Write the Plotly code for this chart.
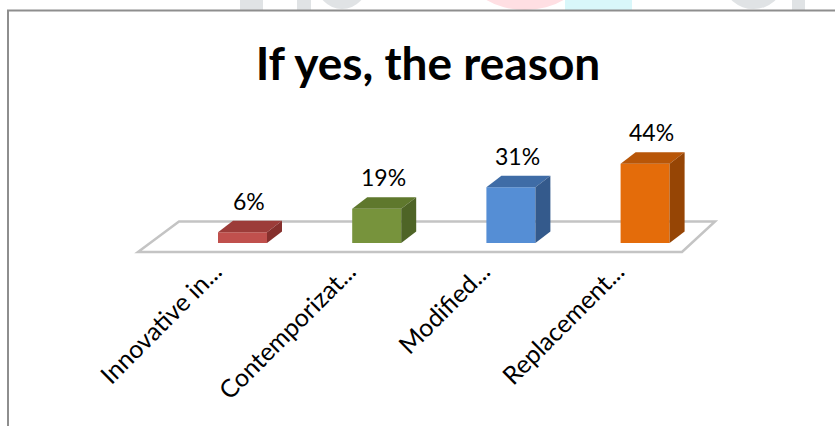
import plotly.graph_objects as go

# ---- data -------------------------------------------------------------
categories = ["Innovative in...", "Contemporizat...", "Modified...", "Replacement..."]
values = [6, 19, 31, 44]
label_suffix = "%"
title_text = "If yes, the reason"

# ---- styling ----------------------------------------------------------
front_colors = ["#c0504d", "#77933c", "#558ed5", "#e46c0a"]
top_colors = ["#9c3c39", "#5f782d", "#3f6ca6", "#b85608"]
side_colors = ["#86302d", "#4e6426", "#345a8c", "#964505"]
font_family = "Lato, 'Noto Sans', sans-serif"

W, H = 835, 426
ML, MR, MT, MB = 100, 45, 100, 170
XU = 134.2        # pixels per category step
YU = 1.8          # pixels per percentage point
BASE_PX = 243     # pixel row of the bar bases
X0_PX = 242.5     # pixel column of the first category

plot_w = W - ML - MR
plot_h = H - MT - MB
x_min = (ML - X0_PX) / XU
x_range = [x_min, x_min + plot_w / XU]
y_max = (BASE_PX - MT) / YU
y_range = [y_max - plot_h / YU, y_max]

BAR_W = 49 / XU           # front face width
DX = 15 / XU              # depth offset (x)
DY = 11.5 / YU            # depth offset (y)


def px_x(px):
    return (px - ML) / plot_w


def px_y(py):
    return 1 - (py - MT) / plot_h


def dx_from_px(px):
    return (px - X0_PX) / XU


def dy_from_px(py):
    return (BASE_PX - py) / YU


idx = list(range(len(categories)))
fig = go.Figure()

# front faces
fig.add_trace(go.Bar(
    x=idx, y=values, width=BAR_W,
    marker=dict(color=front_colors, line=dict(width=0)),
    hoverinfo="skip", showlegend=False,
))

# top and side faces, value labels
for i, v in enumerate(values):
    xl, xr = i - BAR_W / 2, i + BAR_W / 2
    fig.add_trace(go.Scatter(
        x=[xl, xr, xr + DX, xl + DX, xl], y=[v, v, v + DY, v + DY, v],
        fill="toself", fillcolor=top_colors[i], mode="lines",
        line=dict(width=0), hoverinfo="skip", showlegend=False,
    ))
    fig.add_trace(go.Scatter(
        x=[xr, xr + DX, xr + DX, xr, xr], y=[0, DY, v + DY, v, 0],
        fill="toself", fillcolor=side_colors[i], mode="lines",
        line=dict(width=0), hoverinfo="skip", showlegend=False,
    ))
    fig.add_annotation(
        x=i + DX / 2, y=v + DY, text=f"{v}{label_suffix}",
        showarrow=False, yanchor="bottom", yshift=4, xshift=-1,
        font=dict(family=font_family, size=23, color="#000000"),
    )

# floor of the 3-D plot
floor = [(138, 252), (179, 221.5), (715, 221.5), (682, 252)]
path = "M " + " L ".join(f"{dx_from_px(a)},{dy_from_px(b)}" for a, b in floor) + " Z"
fig.add_shape(type="path", path=path, xref="x", yref="y", layer="below",
              fillcolor="#ffffff", line=dict(color="#c4c4c4", width=2.5))

# faint page watermark above the chart frame
wm = [
    ("rect", 240, -5, 263, 10, "#e0e3e5"),
    ("rect", 297, -5, 311, 10, "#e0e3e5"),
    ("circle", 316, -45, 368, 9, "#e0e3e5"),
    ("circle", 470, -60, 580, 10, "#ffdfe3"),
    ("rect", 565, -5, 632, 10, "#d9f7fa"),
    ("circle", 725, -40, 782, 9, "#e0e3e5"),
    ("rect", 792, -5, 805, 10, "#e0e3e5"),
]
for kind, x0, y0, x1, y1, c in wm:
    fig.add_shape(type=kind, xref="paper", yref="paper",
                  x0=px_x(x0), x1=px_x(x1), y0=px_y(y0), y1=px_y(y1),
                  fillcolor=c, line=dict(width=0), layer="below")
fig.add_shape(type="rect", xref="paper", yref="paper",
              x0=px_x(0), x1=px_x(W), y0=px_y(10), y1=px_y(H + 5),
              fillcolor="#ffffff", line=dict(width=0), layer="below")

# chart frame
fig.add_shape(type="line", xref="paper", yref="paper",
              x0=px_x(7), x1=px_x(W + 5), y0=px_y(10.5), y1=px_y(10.5),
              line=dict(color="#8e8e8e", width=2))
fig.add_shape(type="line", xref="paper", yref="paper",
              x0=px_x(8), x1=px_x(8), y0=px_y(10), y1=px_y(H + 5),
              line=dict(color="#8e8e8e", width=2))

label_shift = 28 / XU
fig.update_layout(
    width=W, height=H,
    margin=dict(l=ML, r=MR, t=MT, b=MB, autoexpand=False),
    paper_bgcolor="#ffffff", plot_bgcolor="rgba(0,0,0,0)",
    title=dict(text=f"<b>{title_text}</b>", x=428 / W, xref="container", xanchor="center",
               y=1 - 64 / H, yref="container", yanchor="middle",
               font=dict(family=font_family, size=46, color="#000000"),
               automargin=False),
    xaxis=dict(range=x_range, showgrid=False, zeroline=False, showline=False,
               anchor="free", position=px_y(251),
               tickmode="array", tickvals=[i - label_shift for i in idx],
               ticktext=categories, tickangle=-45, ticks="",
               automargin=False,
               tickfont=dict(family=font_family, size=25, color="#000000"),
               fixedrange=True),
    yaxis=dict(range=y_range, visible=False, fixedrange=True, automargin=False),
    showlegend=False,
)

fig.write_html("out.html")
